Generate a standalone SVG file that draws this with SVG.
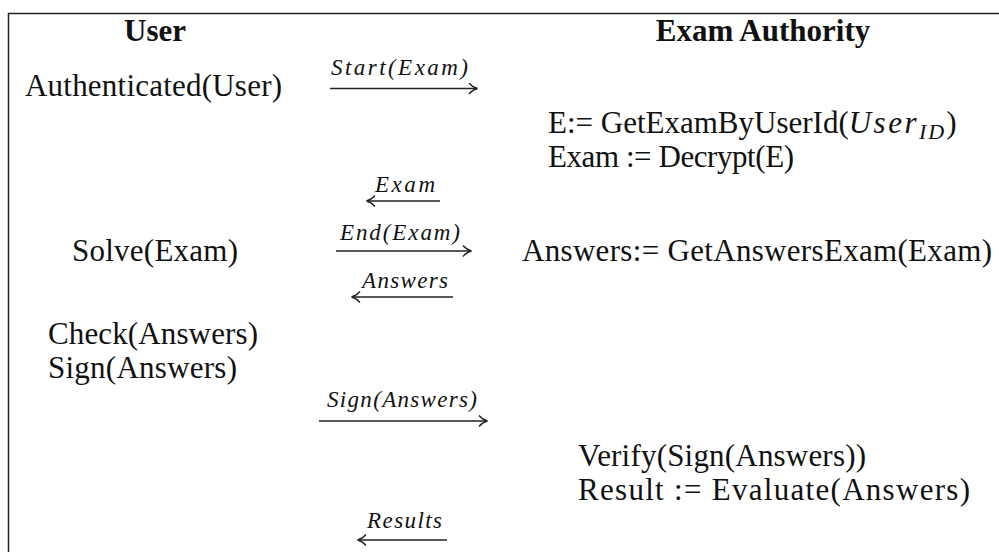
<svg xmlns="http://www.w3.org/2000/svg" width="999" height="552" viewBox="0 0 999 552">
<defs>
<style>
.t{font-family:"Liberation Serif","Times New Roman",serif;font-size:31px;fill:#111}
.h{font-family:"Liberation Serif","Times New Roman",serif;font-size:31px;font-weight:bold;fill:#111}
.m{font-family:"Liberation Serif","Times New Roman",serif;font-size:23px;font-style:italic;fill:#111}
.mi{font-family:"Liberation Serif","Times New Roman",serif;font-style:italic}
.c{stroke:#222;stroke-width:1.4;fill:none}
</style>
<marker id="ar" viewBox="0 0 10 12" refX="9" refY="6" markerWidth="10" markerHeight="12" markerUnits="userSpaceOnUse" orient="auto">
<path d="M1,0.5 Q5,5 9.5,6 Q5,7 1,11.5" fill="none" stroke="#222" stroke-width="1.3"/>
</marker>
</defs>
<rect width="999" height="552" fill="#fff"/>
<path d="M8.5,552 V13.5 H999" fill="none" stroke="#222" stroke-width="1.5"/>
<g id="hdr-user"><text class="h" x="155" y="41" text-anchor="middle">User</text></g>
<g id="hdr-authority"><text class="h" x="763" y="41" text-anchor="middle">Exam Authority</text></g>
<g id="n-auth"><text class="t" x="25" y="96" textLength="257">Authenticated(User)</text></g>
<g id="n-getexam"><text class="t" x="548" y="133">E:= GetExamByUserId(<tspan class="mi" letter-spacing="2.5">User</tspan><tspan class="mi" font-size="22" dy="6" letter-spacing="2">ID</tspan><tspan dy="-6">)</tspan></text>
<text class="t" x="548" y="167" textLength="246">Exam := Decrypt(E)</text></g>
<g id="n-solve"><text class="t" x="72" y="261" textLength="166">Solve(Exam)</text></g>
<g id="n-answers"><text class="t" x="522" y="261" textLength="470">Answers:= GetAnswersExam(Exam)</text></g>
<g id="n-check"><text class="t" x="48" y="344" textLength="210">Check(Answers)</text>
<text class="t" x="48" y="378" textLength="189">Sign(Answers)</text></g>
<g id="n-verify"><text class="t" x="578" y="466" textLength="288">Verify(Sign(Answers))</text>
<text class="t" x="578" y="500" textLength="392">Result := Evaluate(Answers)</text></g>
<g id="connectors">
<line class="c" x1="330" y1="88.5" x2="477" y2="88.5" marker-end="url(#ar)"/>
<text class="m" x="331" y="75" textLength="137">Start(Exam)</text>
<line class="c" x1="440" y1="201" x2="367" y2="201" marker-end="url(#ar)"/>
<text class="m" x="375" y="192" textLength="60">Exam</text>
<line class="c" x1="336" y1="251" x2="471" y2="251" marker-end="url(#ar)"/>
<text class="m" x="340" y="240" textLength="120">End(Exam)</text>
<line class="c" x1="453" y1="297" x2="352" y2="297" marker-end="url(#ar)"/>
<text class="m" x="362" y="288" textLength="86">Answers</text>
<line class="c" x1="319" y1="421" x2="487" y2="421" marker-end="url(#ar)"/>
<text class="m" x="327" y="407" textLength="150">Sign(Answers)</text>
<line class="c" x1="447" y1="540" x2="358" y2="540" marker-end="url(#ar)"/>
<text class="m" x="367" y="528" textLength="75">Results</text>
</g>
</svg>
